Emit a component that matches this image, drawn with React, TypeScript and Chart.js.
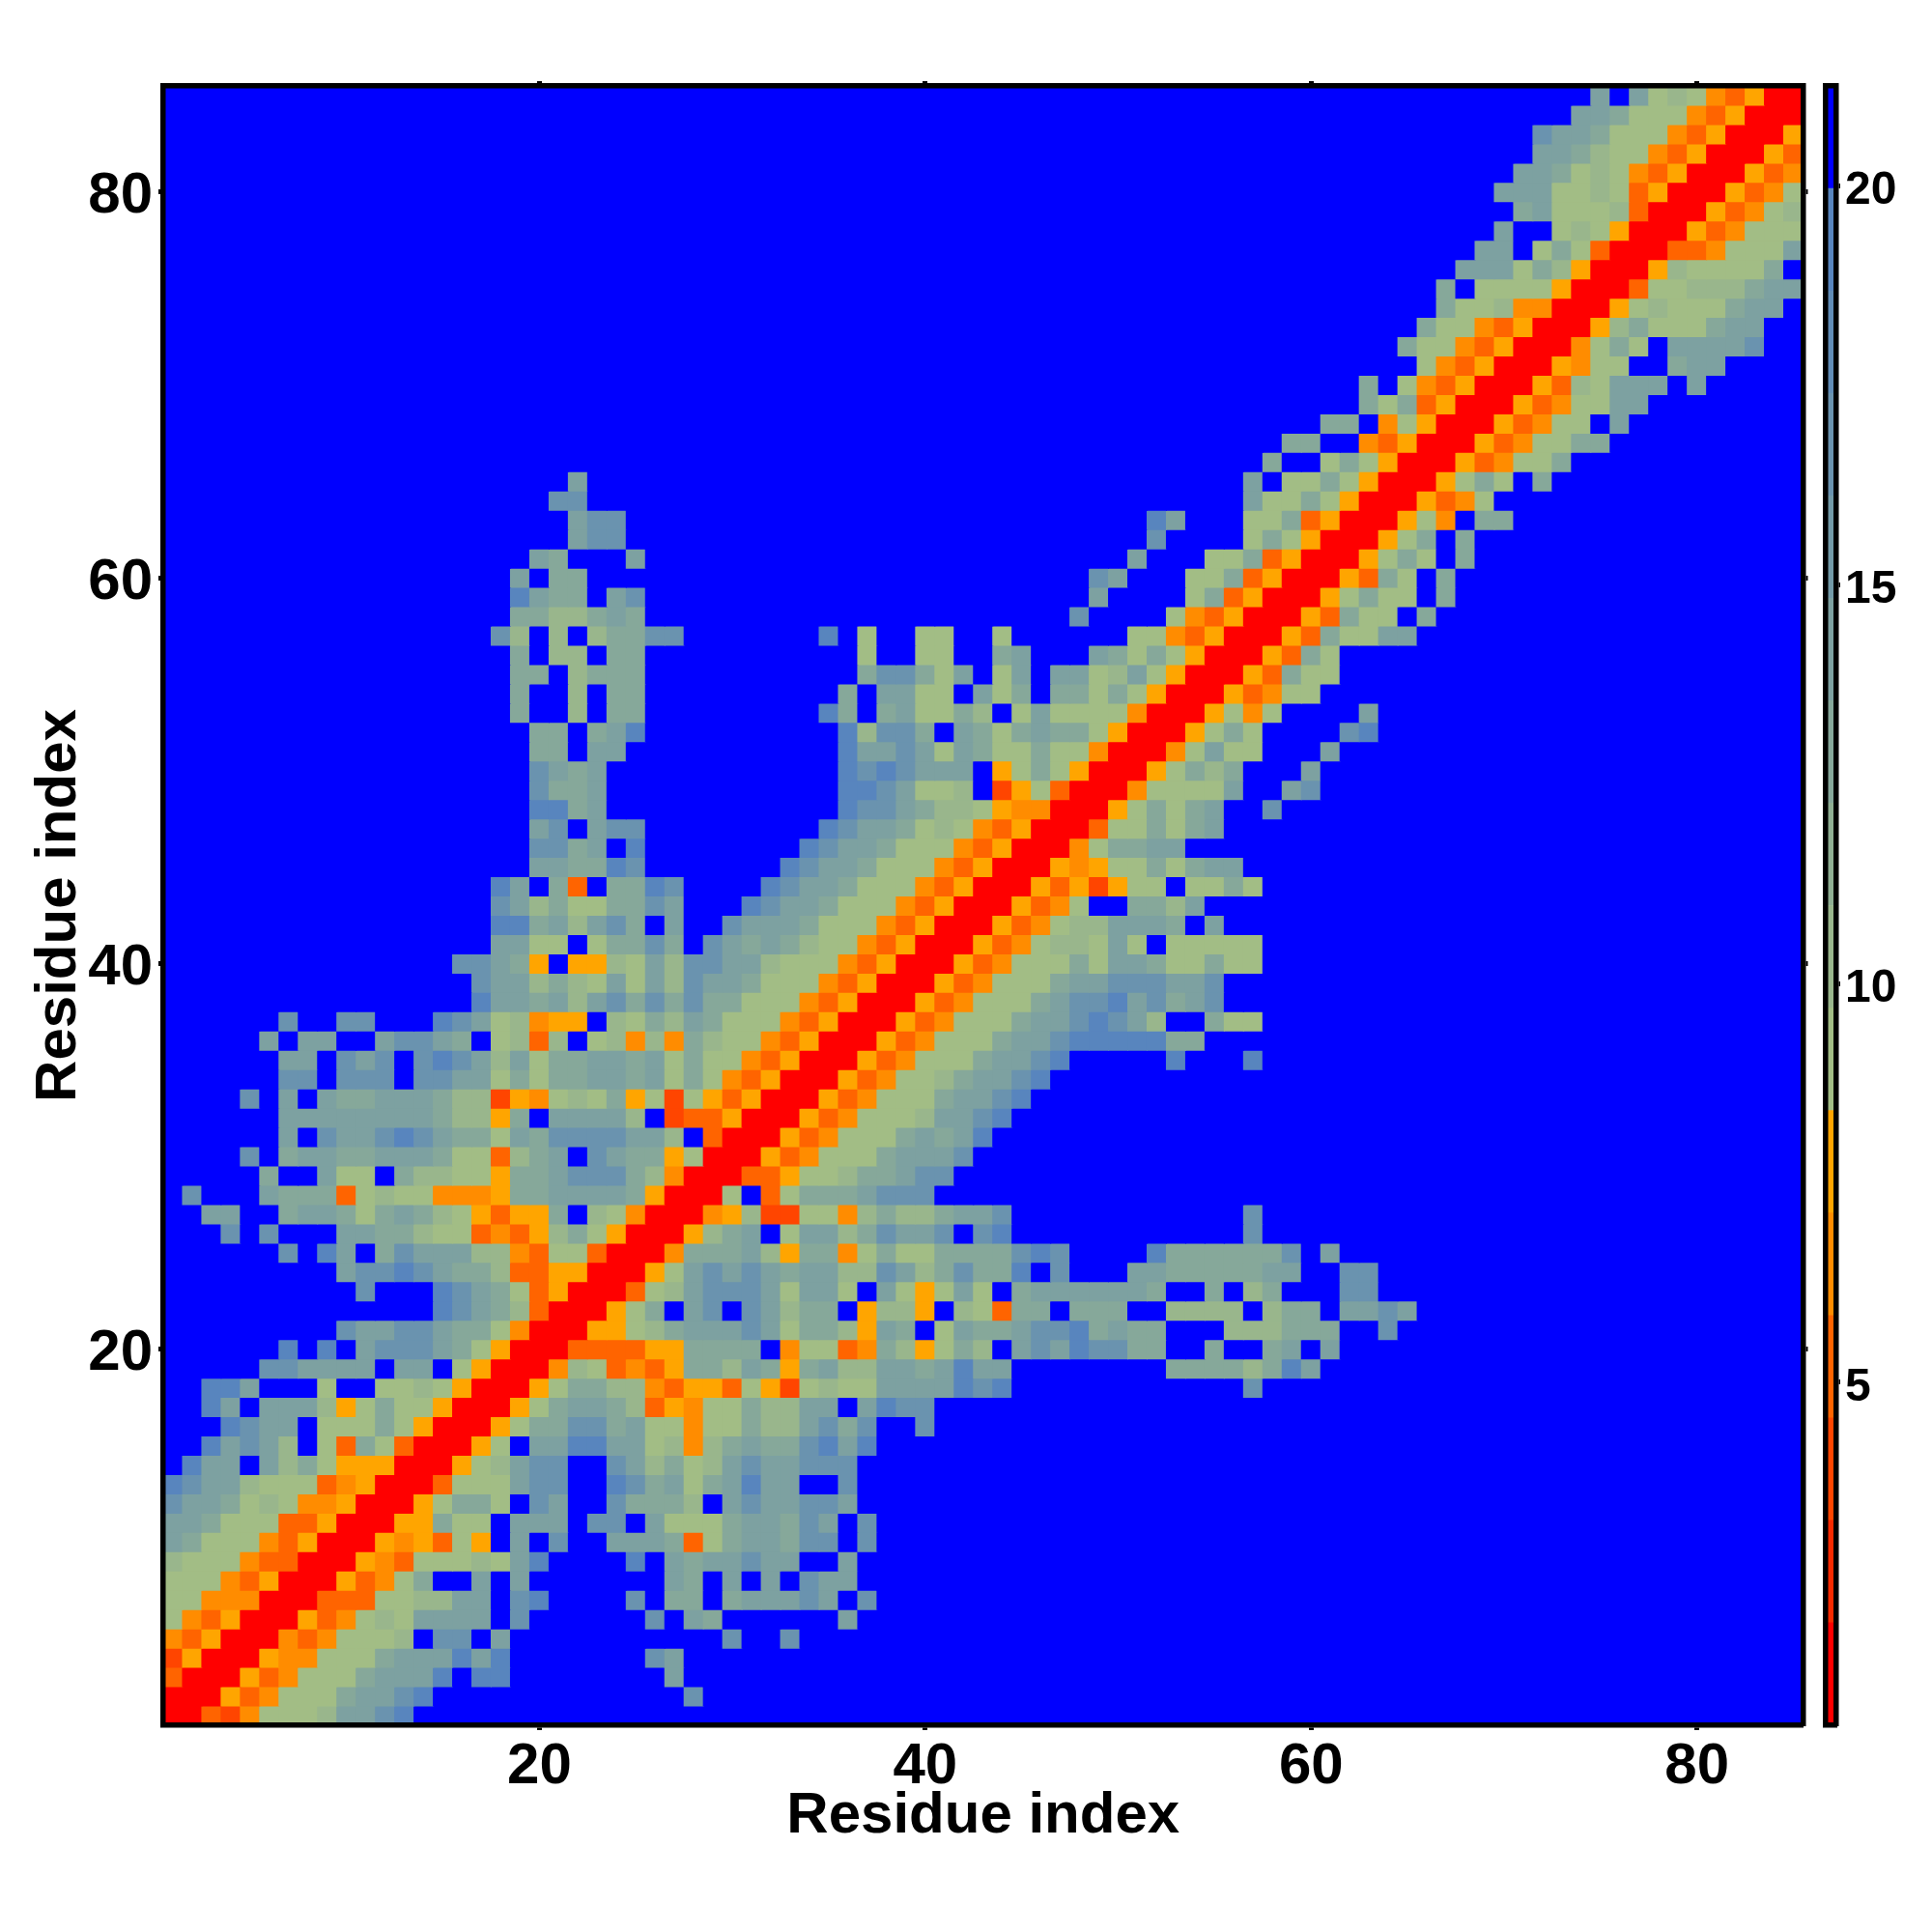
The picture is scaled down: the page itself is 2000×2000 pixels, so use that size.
import React, { useEffect, useRef } from "react";
import { Chart, registerables } from "chart.js";

Chart.register(...registerables);

// Half of a symmetric residue-distance matrix: rowsFromDiagonal[i] starts at x = y = i + 1.
// A symbol names a distance class; anything past the end of a string is the far (blue) class.
const rowsFromDiagonal: string[] = [
  "rrotOaaabddef",
  "rryoOaaacddef.............e",
  "rryoOaaacdddf.ff........d",
  "rryOOaaacdddfdf.......ed",
  "rrOoOaaab.ee.d...........e..e",
  "rryoOabadddd.e......e.dc......d",
  "rroooaabbdd.ef....e.cc.cddded.e",
  "rryoOac..d.d.......dc.d.d.edd",
  "rryOoaaabadf....f.dcddedd..d",
  "rryOyoay.d.e..dddcoacddcee.e",
  "rryycaa.ddd.ee.daaacddced.e",
  "rryacca.ed..ecccb.deddeed",
  "rroaaadee..fecdacdfdd..e",
  "rryabdee..edbcabdeddeee",
  "rrya.ddffddabObcdccefdf",
  "rryacceecdaaOaacbbdece..e",
  "rryacddcboyOaacbbdd.dfee",
  "rryaccbbOoyyoaytabaaddddfef............e",
  "rrObaoOoyccbdcycdbbddcdfdd........ccccbcfd",
  "rrooooyycccc.OaaoOcbyacb.dedfeecc..c..cd.d",
  "rryyabcdddedaccbydc.adccdeefcdcc...bbbccc..e",
  "rryac.de.edbcc.ybby.baocc.ccc..bbbb.bcc.dded",
  "rroabdeeedadda.dayada.cddddddc..c.bc...ee",
  "rryadededcddbbedbceccf.e...ddcccccdd..ee",
  "rrOcccdbyccOacaaccccefe....fcccccce.d",
  "rrybcd.addbcedde.ef............e",
  "rrOybttaaObcbbcdde............e",
  "rra.oacccdeee",
  "rrooyaabccdee",
  "rryoOaaacddde",
  "rryoOaaacdcdf",
  "rryoOaaabddef",
  "rryoOaaacddef",
  "rryoOaabcddef",
  "rryoOaaacddef.....f...f",
  "rryoOaaacddefffffcc",
  "rryoOaaacddefedb..caa",
  "rryoOaaacdeefdecde",
  "rryoOaaacddeeedde",
  "rryoOaaacaddcaacaa",
  "rryoOabbada.aaaaa",
  "rryoOabbdddc.d",
  "rryoOa..ccbd",
  "rryoytyaa.aaca",
  "rryOyaacacdd",
  "rrOaccdd",
  "rroaacacd",
  "rryacacd..e",
  "rrOaaaad..de",
  "rryacbc...d",
  "rrOadaa...d",
  "rryaca....ef",
  "rryaOa....d",
  "rryoOaa",
  "rryocaa",
  "rryoca",
  "rryocaadd",
  "rryocaa.c",
  "rryacaa.c",
  "rryoca.c",
  "rryaca.c",
  "rryac.c",
  "rryaO.cc",
  "rryoOa",
  "rryaca.c",
  "rryoOaac",
  "rryoOaacc",
  "rryoOaa.d",
  "rryoOaadd",
  "rryobaddd.d",
  "rryOaa..cdd",
  "rrOaca.dddde",
  "rrybcaaacdd",
  "rryabaaacdd",
  "rroaabbbcdd",
  "rrybaaaac.",
  "rrooOaaad",
  "rryoOaaa",
  "rryoOab",
  "rryoOa",
  "rryoO",
  "rryo",
  "rry",
  "rr",
  "r",
];

const residueCount = 85;
const axisTickValues = [20, 40, 60, 80];
const colorbarTickValues = [5, 10, 15, 20];
const xTitle = "Residue index";
const yTitle = "Residue index";

// Distance of each symbol, in the units of the colour bar.
const symbolDistance: Record<string, number> = {
  r: 1.3,
  t: 3.9,
  o: 5.2,
  O: 6.5,
  y: 7.8,
  a: 9.1,
  b: 10.4,
  c: 13.0,
  d: 14.2,
  e: 16.8,
  f: 19.4,
  ".": 20.6,
};

const colorbarMin = 0.7;
const colorbarMax = 21.25;
const levelColors = [
  "#FF0000", "#F92A00", "#FF4500", "#FF6400", "#FF8C00", "#FFA500",
  "#A2BD85", "#99B68C", "#8FAF93", "#86A89A", "#7DA1A1", "#739AA8",
  "#6A93AF", "#618CB6", "#5885BE", "#0000FF",
];

const FONT = '"Liberation Sans", Arial, sans-serif';
const levelStep = (colorbarMax - colorbarMin) / levelColors.length;

function colorOf(value: number) {
  const i = Math.floor((value - colorbarMin) / levelStep);
  return levelColors[Math.max(0, Math.min(levelColors.length - 1, i))];
}

function buildCells() {
  const points: { x: number; y: number }[] = [];
  const colors: string[] = [];
  const far = symbolDistance["."];
  for (let y = 1; y <= residueCount; y++) {
    for (let x = 1; x <= residueCount; x++) {
      const lo = Math.min(x, y);
      const hi = Math.max(x, y);
      const row = rowsFromDiagonal[lo - 1] ?? "";
      const symbol = row[hi - lo];
      const value = symbol ? symbolDistance[symbol] ?? far : far;
      points.push({ x, y });
      colors.push(colorOf(value));
    }
  }
  return { points, colors };
}

const setTicks = (values: number[]) => (scale: any) => {
  scale.ticks = values.map((value) => ({ value }));
};

const fixWidth = (w: number) => (scale: any) => {
  scale.width = w;
};
const fixHeight = (h: number) => (scale: any) => {
  scale.height = h;
};

const frameBorder = { display: true, color: "#000", width: 5.5, z: 2 };

const plotBackground = {
  id: "plotBackground",
  beforeDatasetsDraw(chart: any) {
    const { ctx, chartArea: a } = chart;
    ctx.save();
    ctx.fillStyle = levelColors[levelColors.length - 1];
    ctx.fillRect(a.left, a.top, a.right - a.left, a.bottom - a.top);
    ctx.restore();
  },
};

export default function App() {
  const mainRef = useRef<HTMLCanvasElement>(null);
  const barRef = useRef<HTMLCanvasElement>(null);

  useEffect(() => {
    document.body.style.margin = "0";
    const { points, colors } = buildCells();

    const tickGrid = {
      drawOnChartArea: false,
      drawTicks: true,
      tickLength: 5,
      tickWidth: 5,
      tickColor: "#000",
      z: 1,
    };
    const labelFont = { family: FONT, weight: "bold" as const, size: 60, lineHeight: 1 };

    const main = new Chart(mainRef.current!, {
      type: "scatter",
      data: {
        datasets: [
          {
            data: points,
            backgroundColor: colors,
            pointStyle: "rect",
            pointRadius: 14.85,
            pointBorderWidth: 0,
            borderWidth: 0,
            showLine: false,
            clip: 0,
          } as any,
        ],
      },
      plugins: [plotBackground],
      options: {
        responsive: false,
        animation: false,
        events: [],
        layout: { padding: 0 },
        plugins: { legend: { display: false }, tooltip: { enabled: false } },
        scales: {
          x: {
            type: "linear",
            position: "bottom",
            min: 0.5,
            max: residueCount + 0.5,
            afterBuildTicks: setTicks(axisTickValues),
            afterFit: fixHeight(214),
            border: frameBorder,
            grid: tickGrid,
            ticks: {
              autoSkip: false,
              maxRotation: 0,
              color: "#000",
              padding: 8,
              font: labelFont,
              callback: (v: any) => String(v),
            },
            title: {
              display: true,
              text: xTitle,
              color: "#000",
              font: labelFont,
              padding: { top: 0, bottom: 89.5 },
            },
          },
          xTop: {
            type: "linear",
            position: "top",
            min: 0.5,
            max: residueCount + 0.5,
            afterBuildTicks: setTicks(axisTickValues),
            afterFit: fixHeight(89),
            border: frameBorder,
            grid: tickGrid,
            ticks: { display: false },
          },
          y: {
            type: "linear",
            position: "left",
            min: 0.5,
            max: residueCount + 0.5,
            afterBuildTicks: setTicks(axisTickValues),
            afterFit: fixWidth(169),
            border: frameBorder,
            grid: tickGrid,
            ticks: {
              autoSkip: false,
              color: "#000",
              padding: 6,
              font: { family: FONT, weight: "bold", size: 60, lineHeight: "10px" },
              callback: (v: any) => ["", String(v)],
            },
            title: {
              display: true,
              text: yTitle,
              color: "#000",
              font: labelFont,
              padding: { top: 31, bottom: 0 },
            },
          },
          yRight: {
            type: "linear",
            position: "right",
            min: 0.5,
            max: residueCount + 0.5,
            afterBuildTicks: setTicks(axisTickValues),
            afterFit: fixWidth(133.5),
            border: frameBorder,
            grid: tickGrid,
            ticks: { display: false },
          },
        },
      } as any,
    });

    const barDatasets = levelColors.map((color, i) => ({
      data: [[colorbarMin + i * levelStep, colorbarMin + (i + 1) * levelStep]],
      backgroundColor: color,
      borderWidth: 0,
      barPercentage: 1,
      categoryPercentage: 1,
      grouped: false,
    }));

    const bar = new Chart(barRef.current!, {
      type: "bar",
      data: { labels: [""], datasets: barDatasets as any },
      options: {
        responsive: false,
        animation: false,
        events: [],
        layout: { padding: 0 },
        plugins: { legend: { display: false }, tooltip: { enabled: false } },
        scales: {
          x: {
            type: "category",
            position: "bottom",
            afterFit: fixHeight(214),
            border: frameBorder,
            grid: { display: false },
            ticks: { display: false },
          },
          xTop: {
            type: "category",
            position: "top",
            afterFit: fixHeight(89),
            border: frameBorder,
            grid: { display: false },
            ticks: { display: false },
          },
          yLeft: {
            type: "linear",
            position: "left",
            min: colorbarMin,
            max: colorbarMax,
            afterFit: fixWidth(1889.5),
            border: frameBorder,
            grid: { display: false },
            ticks: { display: false },
          },
          y: {
            type: "linear",
            position: "right",
            min: colorbarMin,
            max: colorbarMax,
            afterBuildTicks: setTicks(colorbarTickValues),
            afterFit: fixWidth(99),
            border: frameBorder,
            grid: {
              drawOnChartArea: false,
              drawTicks: true,
              tickLength: 4,
              tickWidth: 5,
              tickColor: "#000",
              z: 1,
            },
            ticks: {
              autoSkip: false,
              color: "#000",
              padding: 5,
              font: { family: FONT, weight: "bold", size: 48, lineHeight: "12px" },
              callback: (v: any) => ["", String(v)],
            },
          },
        },
      } as any,
    });

    return () => {
      main.destroy();
      bar.destroy();
    };
  }, []);

  const canvasStyle: React.CSSProperties = { position: "absolute", left: 0, top: 0 };
  return (
    <div style={{ position: "absolute", left: 0, top: 0, width: 2000, height: 2000, background: "#fff" }}>
      <canvas ref={mainRef} width={2000} height={2000} style={canvasStyle} />
      <canvas ref={barRef} width={2000} height={2000} style={canvasStyle} />
    </div>
  );
}
